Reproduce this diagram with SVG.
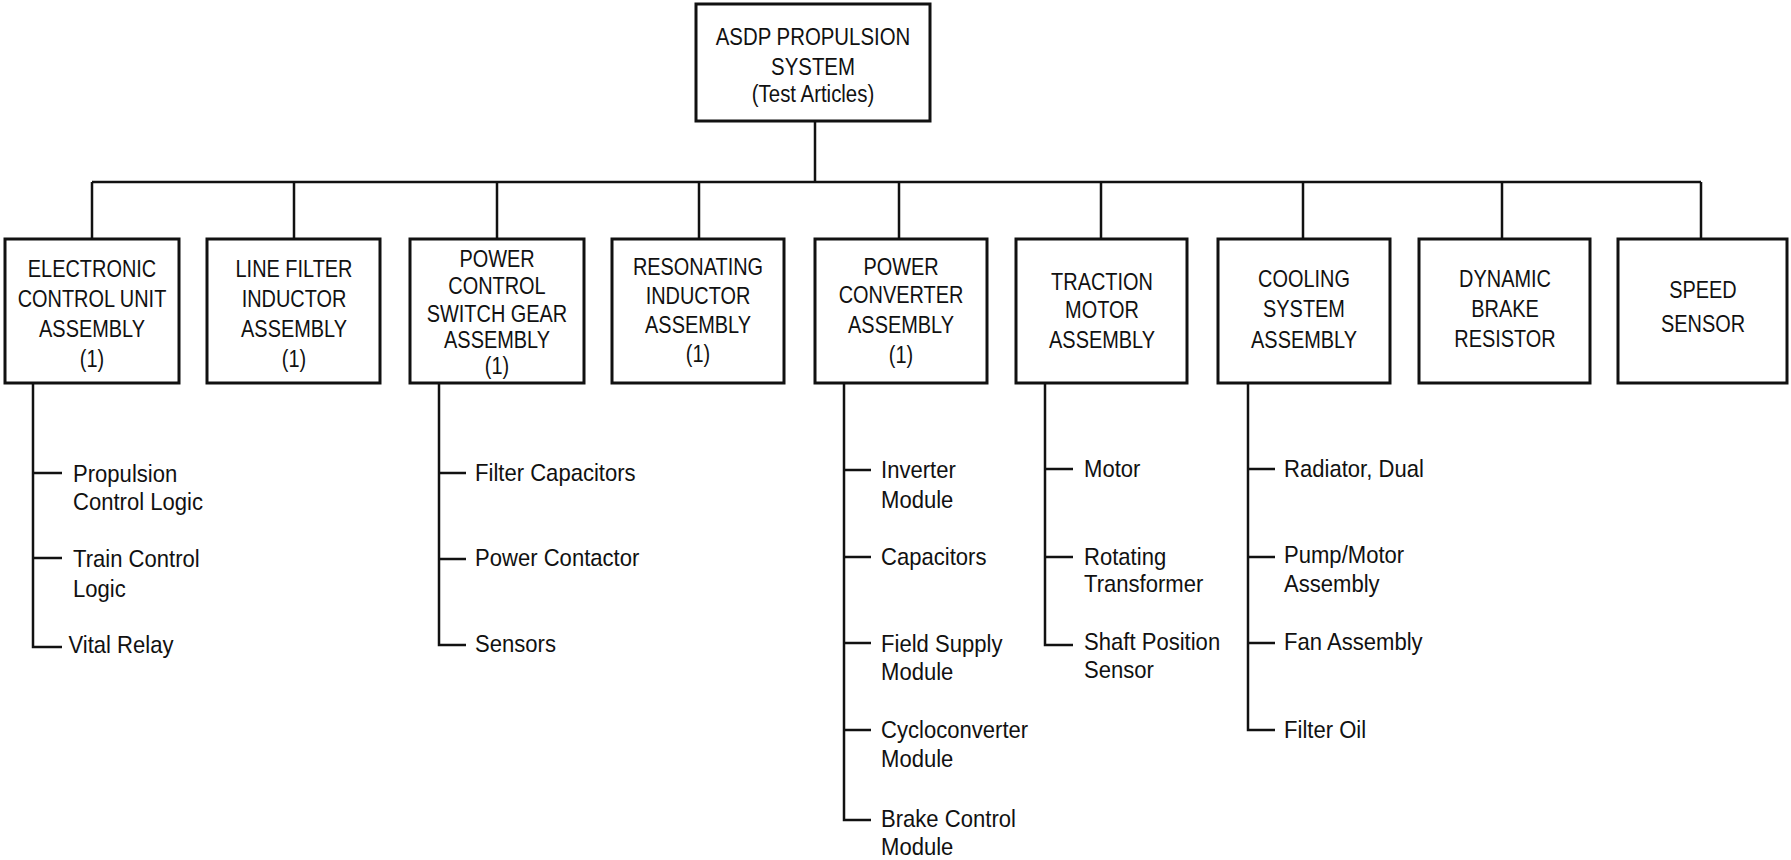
<svg xmlns="http://www.w3.org/2000/svg" width="1791" height="860" viewBox="0 0 1791 860">
<style>
.box{fill:#fff;stroke:#111;stroke-width:3}
.ln{fill:none;stroke:#111;stroke-width:2.5}
text{font-family:"Liberation Sans",Arial,sans-serif;font-size:24px;fill:#111}
.t{text-anchor:middle}
</style>
<rect width="1791" height="860" fill="#fff"/>
<g id="connectors" class="ln">
<path d="M815 121V182M92 182H1701"/>
<path d="M92 182V239M294 182V239M497 182V239M699 182V239M899 182V239M1101 182V239M1303 182V239M1502 182V239M1701 182V239"/>
<path d="M33 383V647H62M33 473H62M33 558H62"/>
<path d="M439 383V645H466M439 473H466M439 559H466"/>
<path d="M844 383V820H871M844 470H871M844 557H871M844 643H871M844 730H871"/>
<path d="M1045 383V645H1073M1045 469H1073M1045 557H1073"/>
<path d="M1248 383V730H1275M1248 469H1275M1248 557H1275M1248 643H1275"/>
</g>
<g id="root">
<rect class="box" x="696" y="4" width="234" height="117"/>
<g transform="translate(813 0) scale(0.85 1)" class="t"><text x="0" y="45">ASDP PROPULSION</text><text x="0" y="75">SYSTEM</text><text x="0" y="102">(Test Articles)</text></g>
</g>
<g id="n1">
<rect class="box" x="5" y="239" width="174" height="144"/>
<g transform="translate(92 0) scale(0.83 1)" class="t"><text x="0" y="277">ELECTRONIC</text><text x="0" y="307">CONTROL UNIT</text><text x="0" y="337">ASSEMBLY</text><text x="0" y="367">(1)</text></g>
</g>
<g id="n2">
<rect class="box" x="207" y="239" width="173" height="144"/>
<g transform="translate(294 0) scale(0.83 1)" class="t"><text x="0" y="277">LINE FILTER</text><text x="0" y="307">INDUCTOR</text><text x="0" y="337">ASSEMBLY</text><text x="0" y="367">(1)</text></g>
</g>
<g id="n3">
<rect class="box" x="410" y="239" width="174" height="144"/>
<g transform="translate(497 0) scale(0.83 1)" class="t"><text x="0" y="267">POWER</text><text x="0" y="294">CONTROL</text><text x="0" y="322">SWITCH GEAR</text><text x="0" y="348">ASSEMBLY</text><text x="0" y="374">(1)</text></g>
</g>
<g id="n4">
<rect class="box" x="612" y="239" width="172" height="144"/>
<g transform="translate(698 0) scale(0.83 1)" class="t"><text x="0" y="275">RESONATING</text><text x="0" y="304">INDUCTOR</text><text x="0" y="333">ASSEMBLY</text><text x="0" y="362">(1)</text></g>
</g>
<g id="n5">
<rect class="box" x="815" y="239" width="172" height="144"/>
<g transform="translate(901 0) scale(0.83 1)" class="t"><text x="0" y="275">POWER</text><text x="0" y="303">CONVERTER</text><text x="0" y="333">ASSEMBLY</text><text x="0" y="363">(1)</text></g>
</g>
<g id="n6">
<rect class="box" x="1016" y="239" width="171" height="144"/>
<g transform="translate(1102 0) scale(0.83 1)" class="t"><text x="0" y="290">TRACTION</text><text x="0" y="318">MOTOR</text><text x="0" y="348">ASSEMBLY</text></g>
</g>
<g id="n7">
<rect class="box" x="1218" y="239" width="172" height="144"/>
<g transform="translate(1304 0) scale(0.83 1)" class="t"><text x="0" y="287">COOLING</text><text x="0" y="317">SYSTEM</text><text x="0" y="348">ASSEMBLY</text></g>
</g>
<g id="n8">
<rect class="box" x="1419" y="239" width="171" height="144"/>
<g transform="translate(1505 0) scale(0.83 1)" class="t"><text x="0" y="287">DYNAMIC</text><text x="0" y="317">BRAKE</text><text x="0" y="347">RESISTOR</text></g>
</g>
<g id="n9">
<rect class="box" x="1618" y="239" width="169" height="144"/>
<g transform="translate(1703 0) scale(0.83 1)" class="t"><text x="0" y="298">SPEED</text><text x="0" y="332">SENSOR</text></g>
</g>
<g id="c1" transform="translate(73 0) scale(0.92 1)">
<text x="0" y="482">Propulsion</text><text x="0" y="510">Control Logic</text>
<text x="0" y="567">Train Control</text><text x="0" y="597">Logic</text>
<text x="-5" y="653">Vital Relay</text>
</g>
<g id="c3" transform="translate(475 0) scale(0.92 1)">
<text x="0" y="481">Filter Capacitors</text>
<text x="0" y="566">Power Contactor</text>
<text x="0" y="652">Sensors</text>
</g>
<g id="c5" transform="translate(881 0) scale(0.92 1)">
<text x="0" y="478">Inverter</text><text x="0" y="508">Module</text>
<text x="0" y="565">Capacitors</text>
<text x="0" y="652">Field Supply</text><text x="0" y="680">Module</text>
<text x="0" y="738">Cycloconverter</text><text x="0" y="767">Module</text>
<text x="0" y="827">Brake Control</text><text x="0" y="855">Module</text>
</g>
<g id="c6" transform="translate(1084 0) scale(0.92 1)">
<text x="0" y="477">Motor</text>
<text x="0" y="565">Rotating</text><text x="0" y="592">Transformer</text>
<text x="0" y="650">Shaft Position</text><text x="0" y="678">Sensor</text>
</g>
<g id="c7" transform="translate(1284 0) scale(0.92 1)">
<text x="0" y="477">Radiator, Dual</text>
<text x="0" y="563">Pump/Motor</text><text x="0" y="592">Assembly</text>
<text x="0" y="650">Fan Assembly</text>
<text x="0" y="738">Filter Oil</text>
</g>
</svg>
